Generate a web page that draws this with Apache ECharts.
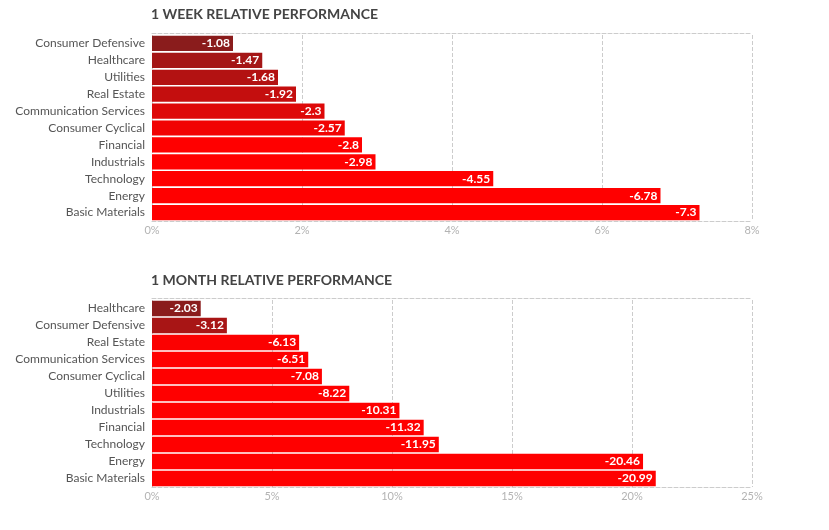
<!DOCTYPE html>
<html>
<head>
<meta charset="utf-8">
<script src="https://cdn.jsdelivr.net/npm/echarts@6/dist/echarts.min.js"></script>
<style>html,body{margin:0;padding:0;background:#fff;}#c{width:829px;height:530px;}</style>
</head>
<body>
<div id="c"></div>
<script>
var weekCategories = ["Consumer Defensive","Healthcare","Utilities","Real Estate","Communication Services","Consumer Cyclical","Financial","Industrials","Technology","Energy","Basic Materials"];
var weekValues = [-1.08,-1.47,-1.68,-1.92,-2.3,-2.57,-2.8,-2.98,-4.55,-6.78,-7.3];
var monthCategories = ["Healthcare","Consumer Defensive","Real Estate","Communication Services","Consumer Cyclical","Utilities","Industrials","Financial","Technology","Energy","Basic Materials"];
var monthValues = [-2.03,-3.12,-6.13,-6.51,-7.08,-8.22,-10.31,-11.32,-11.95,-20.46,-20.99];
var weekTicks = {min:0,max:8,interval:2};
var monthTicks = {min:0,max:25,interval:5};

var FONT = 'Lato';
var chart = echarts.init(document.getElementById('c'));
function abs(arr){ return arr.map(function(v){ return Math.abs(v); }); }
function shade(lo, hi){
  // dark red at lo -> pure red at hi
  return function(p){
    var t = (p.value - lo) / (hi - lo);
    t = Math.max(0, Math.min(1, t));
    var r = Math.round(138 + (255 - 138) * t);
    var g = Math.round(28 * (1 - t));
    return 'rgb(' + r + ',' + g + ',' + g + ')';
  };
}
function xAxes(gi, t){
  return [{
    type:'value', gridIndex:gi, min:t.min, max:t.max, interval:t.interval, position:'bottom',
    axisLine:{show:true, lineStyle:{color:'#cccccc', type:'dashed'}},
    axisTick:{show:false},
    axisLabel:{formatter:'{value}%', color:'#b3b3b3', fontFamily:FONT, fontSize:11, margin:4},
    splitLine:{show:true, lineStyle:{color:'#cccccc', type:'dashed'}}
  },{
    type:'value', gridIndex:gi, min:t.min, max:t.max, interval:t.interval, position:'top', offset:2,
    axisLine:{show:true, lineStyle:{color:'#cccccc', type:'dashed'}},
    axisTick:{show:false}, axisLabel:{show:false}, splitLine:{show:false}
  }];
}
function yAxis(gi, cats){
  return {
    type:'category', gridIndex:gi, data:cats, inverse:true,
    axisLine:{show:false}, axisTick:{show:false},
    axisLabel:{color:'#555555', fontFamily:FONT, fontSize:12, margin:7},
    splitLine:{show:false}
  };
}
function series(xi, yi, vals, colorFn){
  return {
    type:'bar', xAxisIndex:xi, yAxisIndex:yi, data:abs(vals), barCategoryGap:'10%',
    itemStyle:{color:colorFn},
    label:{show:true, position:'insideRight', distance:3, color:'#ffffff', fontFamily:FONT, fontWeight:'bold', fontSize:12,
      formatter:function(p){ return String(vals[p.dataIndex]); }},
    emphasis:{disabled:true}
  };
}
var xs = xAxes(0, weekTicks).concat(xAxes(1, monthTicks));
chart.setOption({
  animation:false,
  title:[
    {text:'1 WEEK RELATIVE PERFORMANCE', left:146, top:2, textStyle:{color:'#444444', fontFamily:FONT, fontWeight:'bold', fontSize:14}},
    {text:'1 MONTH RELATIVE PERFORMANCE', left:146, top:268, textStyle:{color:'#444444', fontFamily:FONT, fontWeight:'bold', fontSize:14}}
  ],
  grid:[
    {left:152, right:77, top:35, height:186},
    {left:152, right:77, top:300, height:187}
  ],
  xAxis: xs,
  yAxis:[yAxis(0, weekCategories), yAxis(1, monthCategories)],
  series:[ series(0,0,weekValues, shade(1.08, 2.78)), series(2,1,monthValues, shade(2.03, 6.28)) ]
});
</script>
</body>
</html>
